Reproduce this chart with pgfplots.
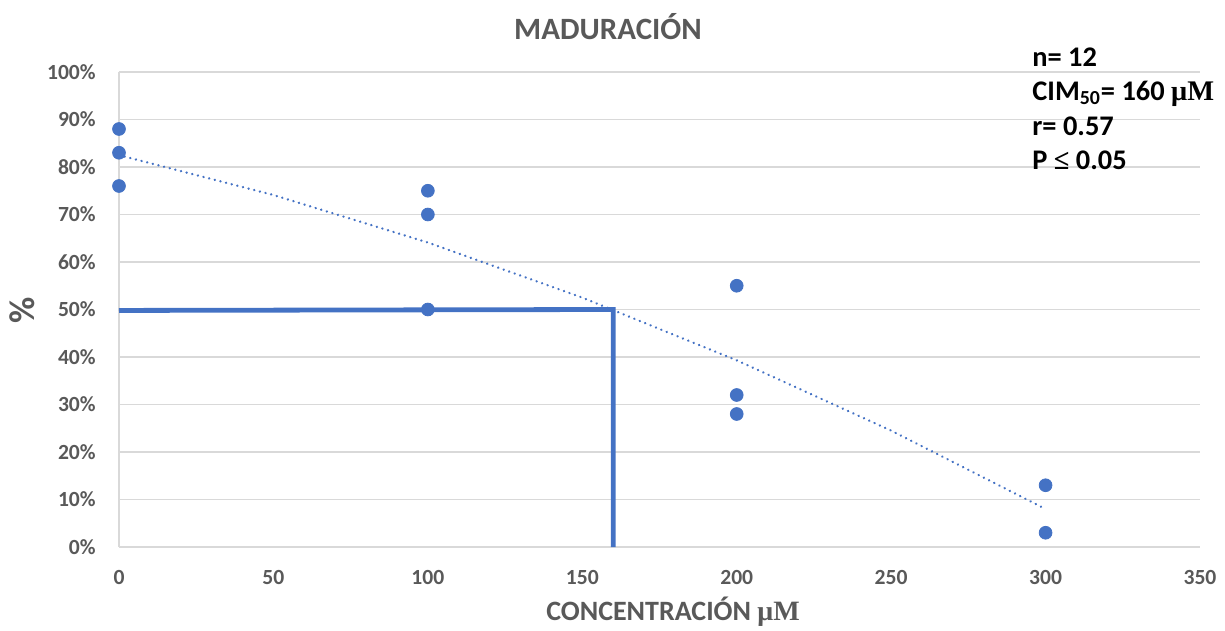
\documentclass[border=0pt]{standalone}
\usepackage{pgfplots}
\pgfplotsset{compat=1.18}
\usepackage{fontspec}
\setmainfont{Carlito}
\newfontfamily\serifmu{Liberation Serif}
\definecolor{axgrey}{HTML}{595959}
\definecolor{gridgrey}{HTML}{D9D9D9}
\definecolor{lineblue}{HTML}{4472C4}
\begin{document}
\begin{tikzpicture}
\useasboundingbox (-59.5pt,-42pt) rectangle (553pt,273.5pt);
\begin{axis}[
  at={(0,0)}, anchor=south west,
  scale only axis, width=540.5pt, height=237.5pt,
  xmin=0, xmax=350, ymin=0, ymax=100,
  xtick={0,50,...,350},
  ytick={0,10,...,100},
  yticklabels={0\%,10\%,20\%,30\%,40\%,50\%,60\%,70\%,80\%,90\%,100\%},
  /pgf/number format/assume math mode=true,
  tick style={draw=none},
  ymajorgrids, grid style={gridgrey, line width=0.75pt},
  axis lines=left, axis line style={-, draw=gridgrey, line width=0.75pt},
  ticklabel style={font=\fontsize{10.8}{12}\selectfont\bfseries, text=axgrey},
  yticklabel style={anchor=east, xshift=-6pt},
  xticklabel style={anchor=north, yshift=-6pt},
  clip=false,
]
% trend line
\addplot[lineblue, line width=1.3pt, line cap=round, dash pattern=on 0.01pt off 2.9pt]
  coordinates {(0,82.5) (50,74.1) (100,64.1) (150,52.5) (200,39.3) (250,24.5) (300,8)};
% CIM50 guide lines
\addplot[lineblue, line width=2.4pt] coordinates {(0,49.8) (160,50) (160,0)};
% data points
\addplot[only marks, mark=*, mark size=3.2pt, mark options={draw=lineblue, fill=lineblue}]
  coordinates {(0,88) (0,83) (0,76) (100,75) (100,70) (100,50) (200,55) (200,32) (200,28) (300,13) (300,3)};
\end{axis}
\node[font=\fontsize{15.5}{18}\selectfont\bfseries, text=axgrey] at (244.5pt,260pt) {MADURACIÓN};
\node[font=\fontsize{14}{17}\selectfont\bfseries, text=axgrey] at (277pt,-32.5pt) {CONCENTRACIÓN {\serifmu μM}};
\node[font=\fontsize{18}{20}\selectfont\bfseries, text=axgrey, rotate=90] at (-48.5pt,118.5pt) {\%};
\node[font=\fontsize{14.2}{16.8}\selectfont\bfseries, anchor=north west, align=left, inner sep=0pt] at (456.5pt,250pt)
  {n= 12\\[0.5pt]
   CIM\textsubscript{50}= 160 {\serifmu μM}\\[0.5pt]
   r= 0.57\\[0.5pt]
   P {\serifmu ≤} 0.05};
\end{tikzpicture}
\end{document}
